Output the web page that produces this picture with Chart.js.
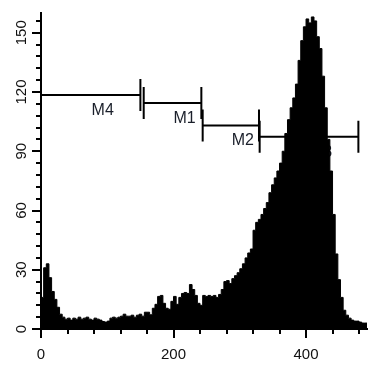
<!DOCTYPE html>
<html>
<head>
<meta charset="utf-8">
<script src="https://cdn.jsdelivr.net/npm/chart.js@4.4.1/dist/chart.umd.min.js"></script>
<style>
  body { margin: 0; background: #fff; }
  canvas { display: block; }
</style>
</head>
<body>
<canvas id="histCanvas" width="374" height="370"></canvas>
<script>
// histogram: event counts per channel bin (4 channels wide)
const binWidth = 4;
const counts = [
  16, 31, 33, 26, 19, 15, 11, 7.5, 6, 5,
  5.5, 4.5, 5.5, 5, 6, 5, 5.5, 6, 5, 4.5,
  5.5, 5, 4.5, 3.8, 3.5, 4, 5.5, 6, 5.5, 6,
  6.5, 7.5, 6.5, 6.5, 7, 6, 7, 7.5, 6.5, 8.5,
  8.5, 7.2, 10.5, 12.5, 16.5, 17, 13, 10.5, 10, 14,
  16.5, 12.5, 16, 18, 18.5, 18, 22.5, 20, 17, 13,
  12, 17, 16.5, 17, 16.5, 17, 16, 17.5, 20, 24,
  24.5, 23, 25.5, 27, 28.5, 30.5, 33, 36, 38.5, 40.5,
  50, 54, 55.5, 58, 61, 64, 69, 73, 76.5, 80,
  84, 90, 99, 106, 112, 117, 124, 136, 146, 153,
  157, 155, 158, 156, 148, 142, 128, 112, 96, 80,
  58, 38, 25, 16, 9.5, 7, 5.5, 4.5, 4, 4,
  3.5, 3, 3
];
const xMax = 492;
const yMax = 160;

// gates: name, start channel, end channel, height (counts)
const markerNames = ['M4', 'M1', 'M2', 'M3'];
const markerStart = [0, 155, 244, 330];
const markerEnd = [150, 242, 329, 479];
const markerLevel = [118.5, 114.4, 103.1, 97.4];

const points = counts.map((c, i) => ({ x: i * binWidth, y: c }));
points.push({ x: xMax, y: counts[counts.length - 1] });

// draws the M1..M4 gate bars
const markerPlugin = {
  id: 'markers',
  beforeDatasetsDraw(chart) {
    const { ctx, scales: { x, y } } = chart;
    ctx.save();
    ctx.strokeStyle = '#000';
    ctx.lineWidth = 2;
    ctx.fillStyle = '#1a1f2a';
    ctx.font = '16px Arial';
    ctx.textAlign = 'center';
    ctx.textBaseline = 'middle';
    markerNames.forEach((name, i) => {
      const x1 = x.getPixelForValue(markerStart[i]);
      const x2 = x.getPixelForValue(markerEnd[i]);
      const yy = y.getPixelForValue(markerLevel[i]);
      ctx.beginPath();
      ctx.moveTo(x1, yy);
      ctx.lineTo(x2, yy);
      ctx.moveTo(x1, yy - 16);
      ctx.lineTo(x1, yy + 16);
      ctx.moveTo(x2, yy - 16);
      ctx.lineTo(x2, yy + 16);
      ctx.stroke();
      ctx.fillText(name, (x1 + x2) / 2 + 12, yy + 15.5);
    });
    ctx.restore();
  }
};

// labelled ticks are a bit longer than the minor ones
const majorTickPlugin = {
  id: 'majorTicks',
  afterDraw(chart) {
    const { ctx, chartArea, scales: { x, y } } = chart;
    ctx.save();
    ctx.strokeStyle = '#000';
    ctx.lineWidth = 2;
    ctx.beginPath();
    x.ticks.forEach(t => {
      if (t.value % 200 !== 0) return;
      const px = Math.round(x.getPixelForValue(t.value));
      ctx.moveTo(px, chartArea.bottom + 4);
      ctx.lineTo(px, chartArea.bottom + 9);
    });
    y.ticks.forEach(t => {
      if (t.value % 30 !== 0) return;
      const py = Math.round(y.getPixelForValue(t.value));
      ctx.moveTo(chartArea.left - 4, py);
      ctx.lineTo(chartArea.left - 9, py);
    });
    ctx.stroke();
    ctx.restore();
  }
};

const config = {
  type: 'line',
  data: {
    datasets: [{
      data: points,
      stepped: 'before',
      fill: 'origin',
      backgroundColor: '#000',
      borderColor: '#000',
      borderWidth: 1,
      pointRadius: 0
    }]
  },
  options: {
    responsive: false,
    animation: false,
    layout: { padding: { left: 0, top: 13, right: 7, bottom: 0 } },
    plugins: {
      legend: { display: false },
      tooltip: { enabled: false }
    },
    scales: {
      x: {
        type: 'linear',
        min: 0,
        max: xMax,
        afterFit: (s) => { s.height = 41; },
        border: { display: true, color: '#000', width: 2 },
        grid: { drawOnChartArea: false, drawTicks: true, tickLength: 5, lineWidth: 2, color: '#000' },
        ticks: {
          stepSize: 40,
          includeBounds: false,
          autoSkip: false,
          maxRotation: 0,
          padding: 12,
          color: '#111',
          font: { family: 'Arial', size: 15 },
          callback: (v) => (v % 200 === 0 ? String(v) : '')
        }
      },
      y: {
        min: 0,
        max: yMax,
        afterFit: (s) => { s.width = 41; },
        border: { display: true, color: '#000', width: 2 },
        grid: { drawOnChartArea: false, drawTicks: true, tickLength: 5, lineWidth: 2, color: '#000' },
        ticks: {
          stepSize: 6,
          includeBounds: false,
          autoSkip: false,
          minRotation: 90,
          maxRotation: 90,
          crossAlign: 'center',
          padding: 2,
          color: '#111',
          font: { family: 'Arial', size: 15 },
          callback: (v) => (v % 30 === 0 ? String(v) : '')
        }
      }
    }
  },
  plugins: [markerPlugin, majorTickPlugin]
};

new Chart(document.getElementById('histCanvas').getContext('2d'), config);
</script>
</body>
</html>
